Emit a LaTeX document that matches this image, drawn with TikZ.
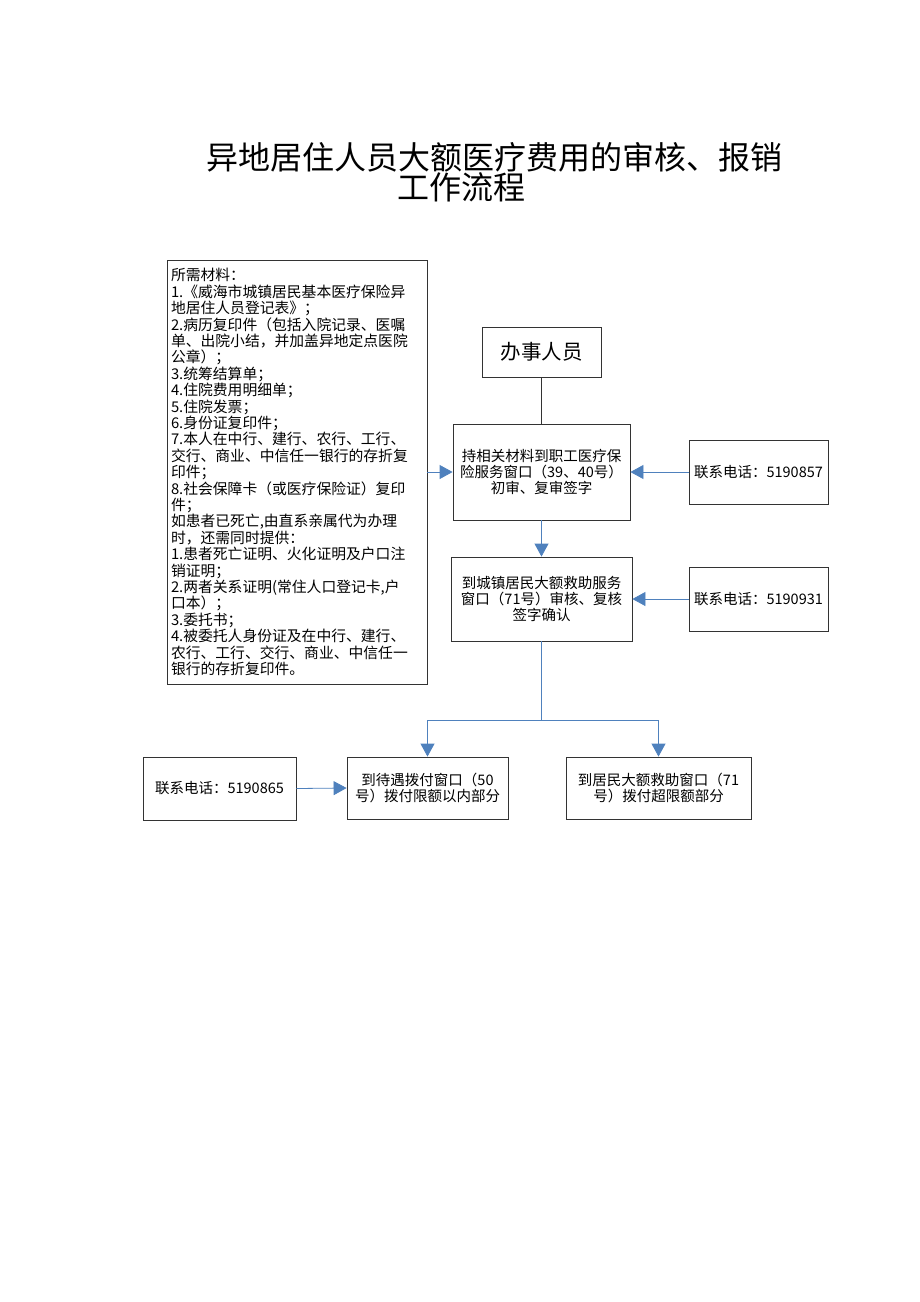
\documentclass[tikz,border=0pt]{standalone}
\usepackage{fontspec}
\setmainfont{Noto Sans CJK SC}
\usetikzlibrary{arrows.meta}

\definecolor{linie}{RGB}{79,129,189}

\tikzset{
	kasten/.style={draw=black!80, line width=0.8pt, inner sep=0pt, align=center, font=\fontsize{14.5}{16}\selectfont},
	pfeil/.style={-{Triangle[width=14pt,length=13pt]}, linie, line width=0.8pt},
}

\begin{document}
\begin{tikzpicture}[x=1pt, y=-1pt]
		
		%Rahmen
		\useasboundingbox (0,0) rectangle (920,1302);
		
		%Titel
		\node[inner sep=0pt, font=\fontsize{32}{36}\selectfont] (titel) at (494.5,157) {异地居住人员大额医疗费用的审核、报销};
		\node[inner sep=0pt, font=\fontsize{32}{36}\selectfont] (titel2) at (461.5,187) {工作流程};
		
		%Unterlagen links
		\node[kasten, minimum width=260pt, minimum height=424pt, text width=252pt, align=left, font=\fontsize{14.8}{16.4}\selectfont] (material) at (297,472) {%
			所需材料：\\
			1.《威海市城镇居民基本医疗保险异\\
			地居住人员登记表》；\\
			2.病历复印件（包括入院记录、医嘱\\
			单、出院小结，并加盖异地定点医院\\
			公章）；\\
			3.统筹结算单；\\
			4.住院费用明细单；\\
			5.住院发票；\\
			6.身份证复印件；\\
			7.本人在中行、建行、农行、工行、\\
			交行、商业、中信任一银行的存折复\\
			印件；\\
			8.社会保障卡（或医疗保险证）复印\\
			件；\\
			如患者已死亡,由直系亲属代为办理\\
			时，还需同时提供：\\
			1.患者死亡证明、火化证明及户口注\\
			销证明；\\
			2.两者关系证明(常住人口登记卡,户\\
			口本）；\\
			3.委托书；\\
			4.被委托人身份证及在中行、建行、\\
			农行、工行、交行、商业、中信任一\\
			银行的存折复印件。};
		
		%Ablauf Mitte
		\node[kasten, minimum width=119pt, minimum height=50pt, font=\fontsize{20.5}{24}\selectfont] (person) at (541.5,352) {办事人员};
		\node[kasten, minimum width=177pt, minimum height=96pt, text width=172pt] (pruefung) at (541.5,472) {持相关材料到职工医疗保\\险服务窗口（39、40号）\\初审、复审签字};
		\node[kasten, minimum width=181pt, minimum height=84pt, text width=174pt] (kontrolle) at (541.5,599) {到城镇居民大额救助服务\\窗口（71号）审核、复核\\签字确认};
		\node[kasten, minimum width=161pt, minimum height=62pt, text width=156pt] (zahlung1) at (427.5,788) {到待遇拨付窗口（50\\号）拨付限额以内部分};
		\node[kasten, minimum width=185pt, minimum height=62pt, text width=178pt] (zahlung2) at (658.5,788) {到居民大额救助窗口（71\\号）拨付超限额部分};
		
		%Telefon
		\node[kasten, minimum width=139pt, minimum height=64pt] (tel1) at (758.5,472) {联系电话：5190857};
		\node[kasten, minimum width=139pt, minimum height=64pt] (tel2) at (758.5,599) {联系电话：5190931};
		\node[kasten, minimum width=153pt, minimum height=63pt] (tel3) at (219.5,788.5) {联系电话：5190865};
		
		%Pfeile
		\draw[black!80, line width=0.8pt] (person.south) -- (pruefung.north);
		\draw[pfeil] (material.east) -- (pruefung.west);
		\draw[pfeil] (tel1.west) -- (pruefung.east);
		\draw[pfeil] (pruefung.south) -- (kontrolle.north);
		\draw[pfeil] (tel2.west) -- (kontrolle.east);
		\coordinate (gabel) at (541.5,720);
		\draw[linie, line width=0.8pt] (kontrolle.south) -- (gabel);
		\draw[pfeil] (gabel) -| (zahlung1.north);
		\draw[pfeil] (gabel) -| (zahlung2.north);
		\draw[pfeil] (tel3.east) -- (zahlung1.west);
		
	\end{tikzpicture}
\end{document}
